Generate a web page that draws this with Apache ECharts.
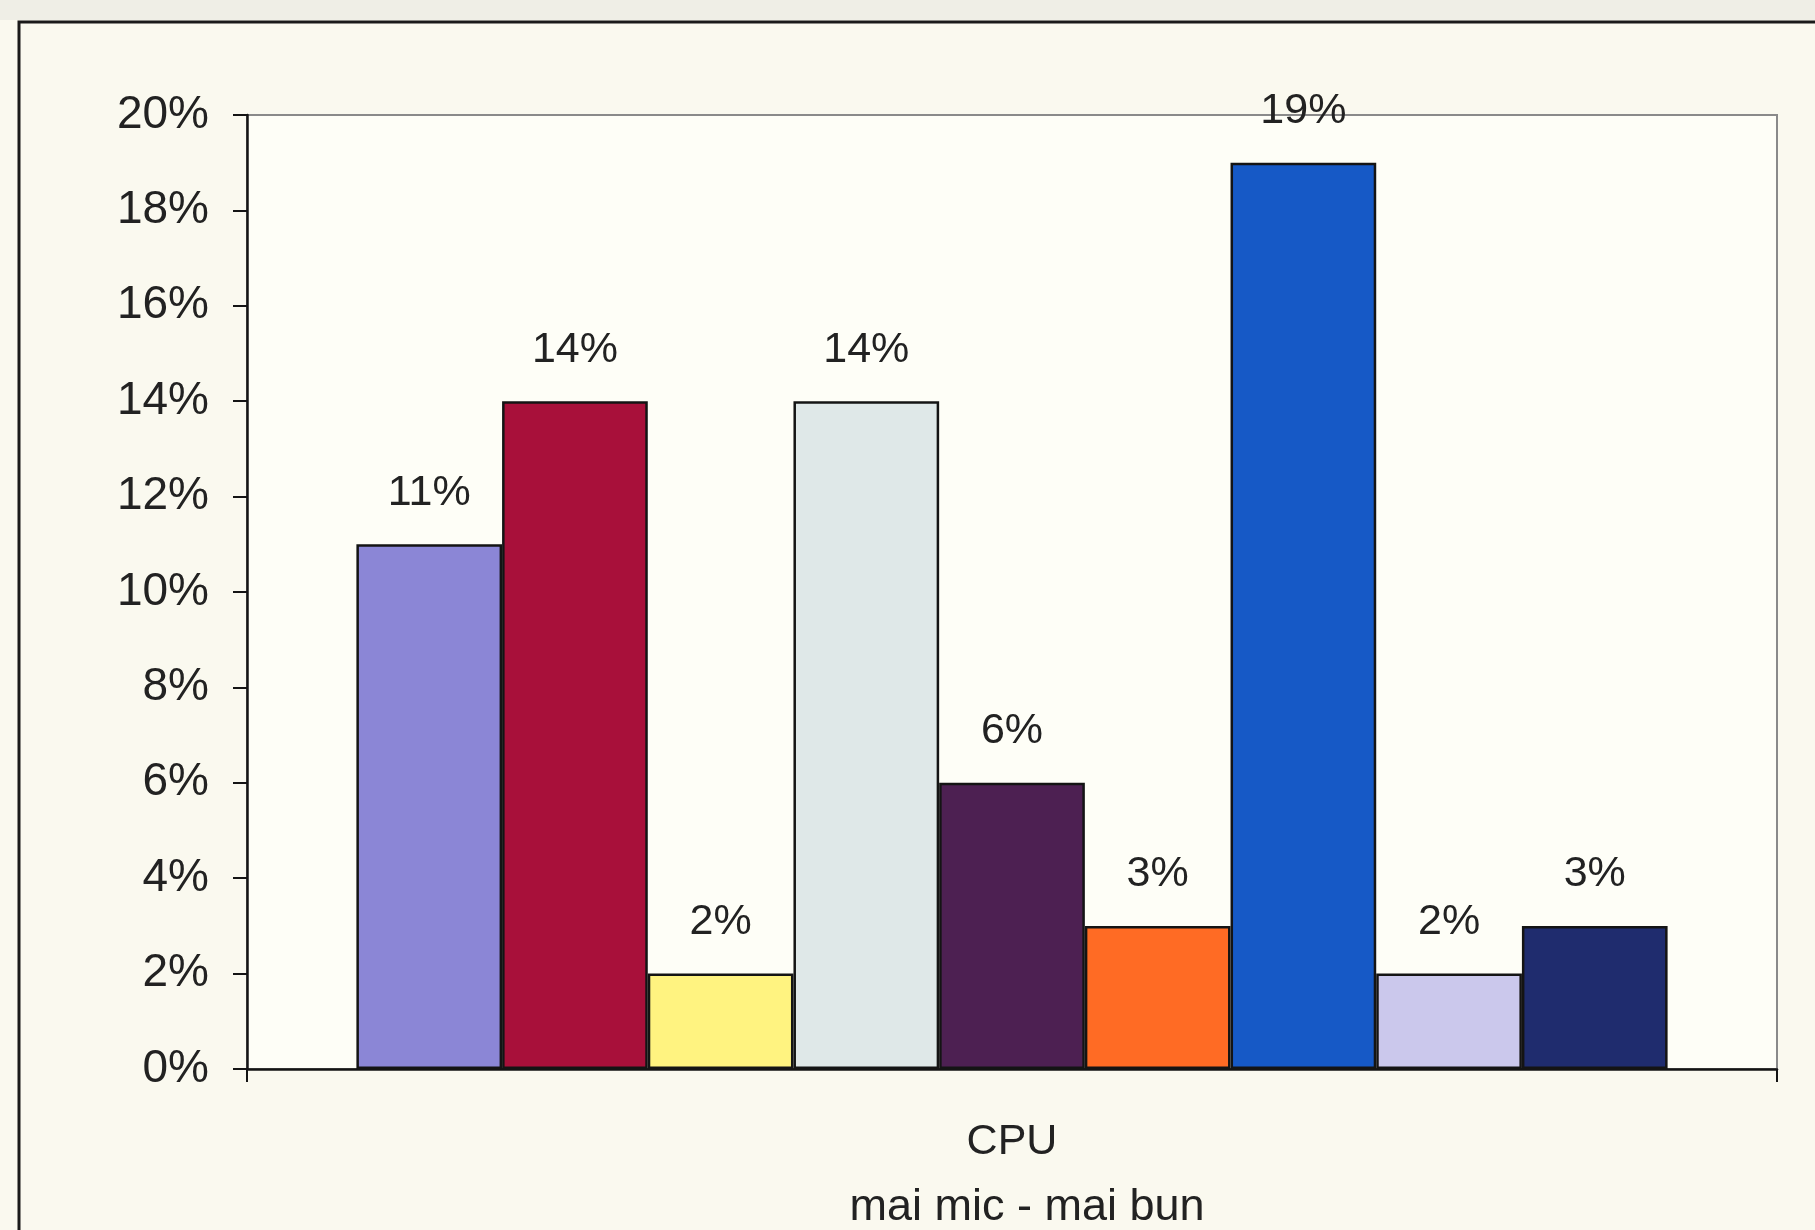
<!DOCTYPE html>
<html>
<head>
<meta charset="utf-8">
<title>CPU</title>
<script src="https://cdn.jsdelivr.net/npm/echarts@6/dist/echarts.min.js"></script>
<style>
  html, body { margin: 0; padding: 0; background: #faf9ef; }
  #chart { width: 1815px; height: 1230px; }
</style>
</head>
<body>
<div id="chart"></div>
<script>
// One category, nine processors shown side by side (percent, lower is better)
const categories = ['CPU'];
const shares = [11, 14, 2, 14, 6, 3, 19, 2, 3];
const yTicks = { min: 0, max: 20, step: 2 };
const axisSubtitle = 'mai mic - mai bun';

// Fill colour for each bar, in order
const palette = ['#8b86d6', '#a8103a', '#fff380', '#dfe8e8', '#4d2052',
                 '#ff6b24', '#1659c6', '#cbc8ec', '#1f2c6e'];

const FONT = '"Liberation Sans", Arial, sans-serif';

const series = shares.map((v, i) => ({
  type: 'bar',
  data: [v],
  barGap: '0%',
  barCategoryGap: '14.3%',
  itemStyle: { color: palette[i], borderColor: '#141414', borderWidth: 2.5 },
  label: {
    show: true,
    position: 'top',
    distance: 30,
    formatter: '{c}%',
    color: '#222',
    fontFamily: FONT,
    fontSize: 43
  },
  emphasis: { disabled: true }
}));

const chart = echarts.init(document.getElementById('chart'), null, { renderer: 'canvas' });
chart.setOption({
  backgroundColor: '#faf9ef',
  animation: false,
  grid: {
    left: 247, right: 38, top: 115, bottom: 161,
    containLabel: false,
    outerBoundsMode: 'none',
    show: true,
    backgroundColor: '#fefef7',
    borderColor: '#8a8a8a',
    borderWidth: 2
  },
  xAxis: {
    type: 'category',
    data: categories,
    axisLine: { lineStyle: { color: '#141414', width: 2.5 } },
    axisTick: { show: true, alignWithLabel: false, length: 13, lineStyle: { color: '#141414', width: 2 } },
    axisLabel: { color: '#222', fontFamily: FONT, fontSize: 43, margin: 52 },
    name: axisSubtitle,
    nameLocation: 'middle',
    nameGap: 116,
    nameTextStyle: { color: '#222', fontFamily: FONT, fontSize: 45, padding: [0, 0, 0, 30] }
  },
  yAxis: {
    type: 'value',
    min: yTicks.min,
    max: yTicks.max,
    interval: yTicks.step,
    splitLine: { show: false },
    axisLine: { show: true, lineStyle: { color: '#141414', width: 2.5 } },
    axisTick: { show: true, length: 14, lineStyle: { color: '#141414', width: 2 } },
    axisLabel: { color: '#222', fontFamily: FONT, fontSize: 46, margin: 38, formatter: '{value}%' }
  },
  graphic: [
    // faint strip above the frame
    { type: 'rect', shape: { x: 0, y: 0, width: 1815, height: 20 }, style: { fill: '#efeee6' }, silent: true },
    // outer frame running off the right and bottom edges
    { type: 'polyline', shape: { points: [[19, 1232], [19, 22], [1817, 22]] },
      style: { stroke: '#1a1a1a', lineWidth: 3, fill: null }, silent: true }
  ],
  series: series
});
</script>
</body>
</html>
